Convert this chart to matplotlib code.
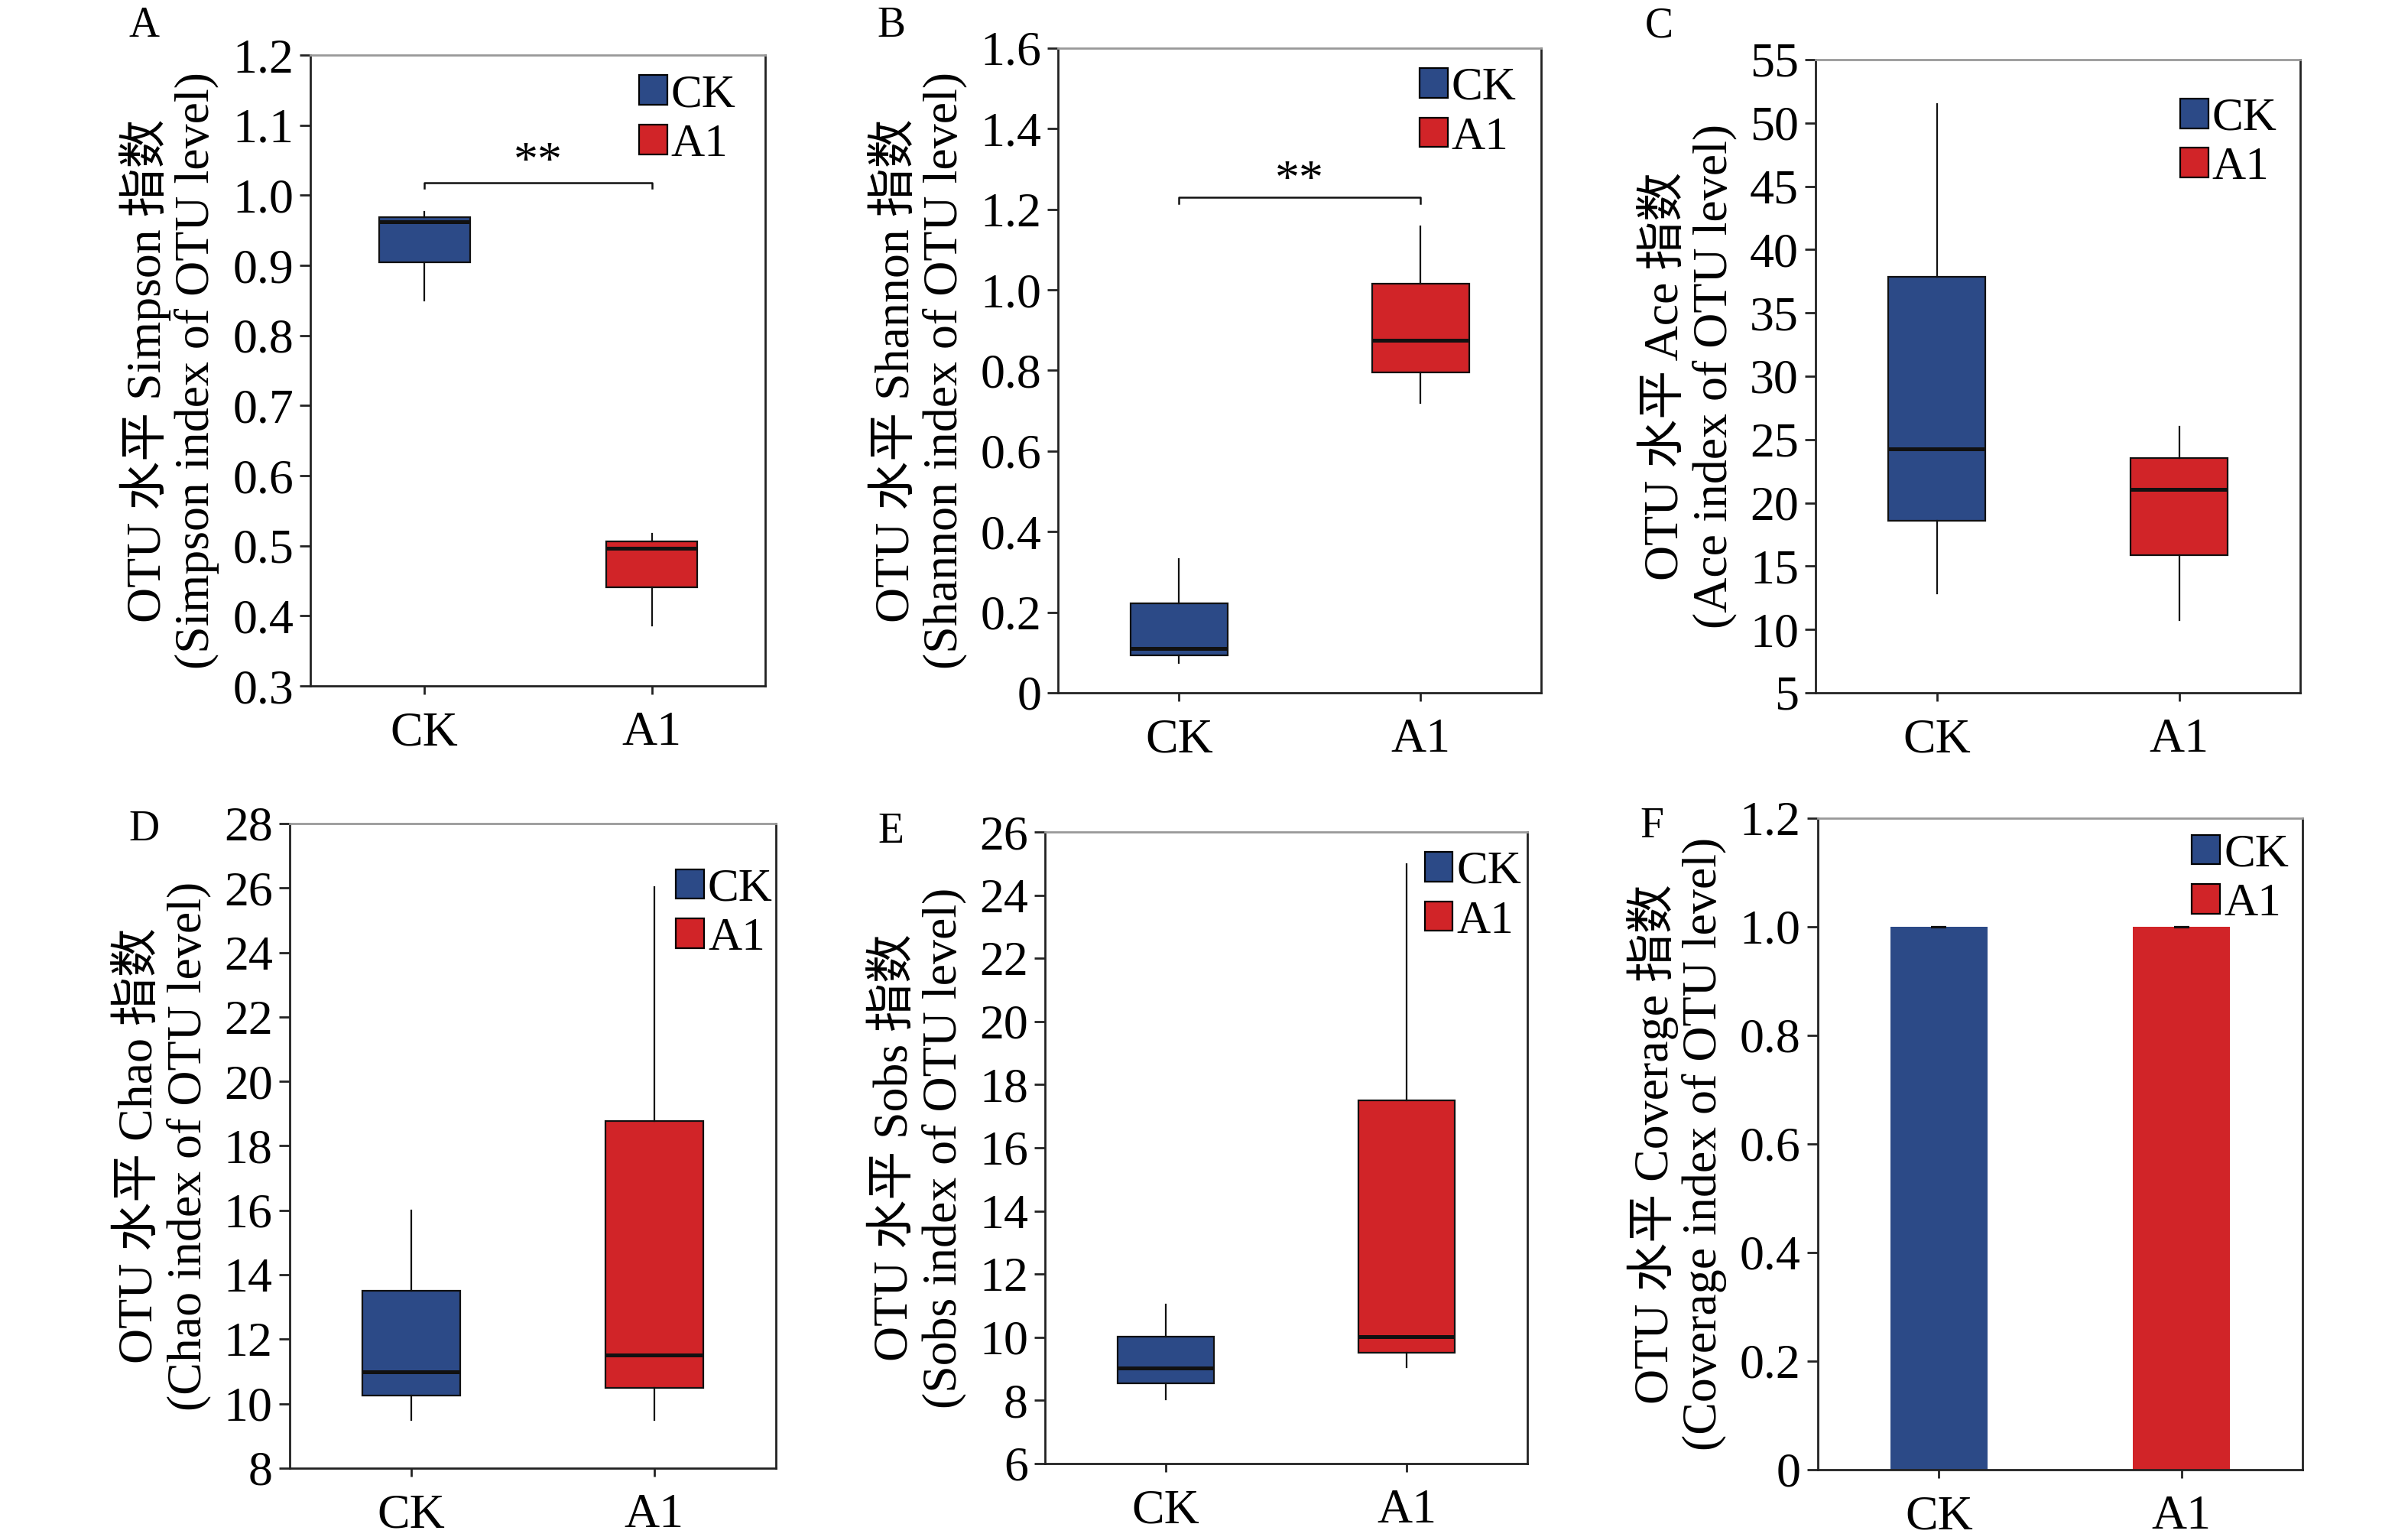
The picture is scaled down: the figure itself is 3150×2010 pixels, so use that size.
import matplotlib
matplotlib.use('Agg')
import matplotlib.pyplot as plt
from matplotlib.patches import Patch

plt.rcParams['font.family'] = ['Liberation Serif', 'Noto Sans CJK SC']
plt.rcParams['axes.unicode_minus'] = False

groups = ['CK', 'A1']
blue = '#2c4a87'
red = '#d12428'

# box stats per group: [whislo, q1, med, q3, whishi]
simpson = {'CK': [0.850, 0.904, 0.962, 0.969, 0.976], 'A1': [0.386, 0.441, 0.496, 0.506, 0.517]}
shannon = {'CK': [0.074, 0.092, 0.109, 0.221, 0.332], 'A1': [0.719, 0.796, 0.875, 1.016, 1.157]}
ace = {'CK': [12.86, 18.56, 24.25, 37.84, 51.5], 'A1': [10.73, 15.88, 21.07, 23.51, 26.03]}
chao = {'CK': [9.5, 10.26, 11.0, 13.5, 16.0], 'A1': [9.5, 10.5, 11.5, 18.76, 26.03]}
sobs = {'CK': [8.04, 8.54, 9.02, 10.01, 11.04], 'A1': [9.04, 9.52, 10.03, 17.51, 24.98]}
coverage = [0.9995, 0.9995]
coverage_err = [0.0004, 0.0004]

# significance bracket heights (bracket y, ends y, star y)
simpson_sig = [1.018, 1.010, 1.045]
shannon_sig = [1.230, 1.215, 1.268]

fig = plt.figure(figsize=(15.75, 10.05), dpi=200)

positions = {
    'A': [0.1290, 0.5537, 0.1889, 0.4104],
    'B': [0.4395, 0.5493, 0.2006, 0.4194],
    'C': [0.7540, 0.5493, 0.2013, 0.4119],
    'D': [0.1203, 0.0448, 0.2019, 0.4194],
    'E': [0.4340, 0.0478, 0.2003, 0.4109],
    'F': [0.7549, 0.0438, 0.2013, 0.4239],
}
legend_anchor = {'A': (0.976, 1.0), 'B': (0.987, 1.0), 'C': (0.99, 0.97),
                 'D': (1.032, 0.96), 'E': (1.026, 1.0), 'F': (1.01, 1.005)}
letter_pos = {'A': (0.0597, 0.983), 'B': (0.370, 0.983), 'C': (0.689, 0.983),
              'D': (0.0597, 0.460), 'E': (0.370, 0.4585), 'F': (0.686, 0.462)}

TICK = 23
LAB = 23
LEG = 22


def style_axes(ax, key, ylim, yticks, yticklabels=None):
    ax.set_xlim(0.5, 2.5)
    ax.set_ylim(*ylim)
    ax.set_yticks(yticks)
    if yticklabels is not None:
        ax.set_yticklabels(yticklabels)
    ax.set_xticks([1, 2])
    ax.set_xticklabels(groups)
    ax.tick_params(axis='both', direction='out', labelsize=TICK, width=1.0, color='#222222')
    ax.tick_params(axis='y', length=5, pad=3)
    ax.tick_params(axis='x', length=4, pad=8)
    for s in ax.spines.values():
        s.set_linewidth(1.0)
        s.set_color('#222222')
    ax.spines['top'].set_color('#999999')
    handles = [Patch(facecolor=blue, edgecolor='black', linewidth=0.8, label='CK'),
               Patch(facecolor=red, edgecolor='black', linewidth=0.8, label='A1')]
    ax.legend(handles=handles, loc='upper right', frameon=False, fontsize=LEG,
              handlelength=0.6, handleheight=0.6, handletextpad=0.08,
              labelspacing=0.15, borderaxespad=0.0, bbox_to_anchor=legend_anchor[key])


def draw_box(ax, data):
    stats = []
    for g in groups:
        lo, q1, med, q3, hi = data[g]
        stats.append({'whislo': lo, 'q1': q1, 'med': med, 'q3': q3, 'whishi': hi, 'fliers': []})
    bp = ax.bxp(stats, positions=[1, 2], widths=0.4, patch_artist=True, showcaps=False,
                boxprops=dict(linewidth=0.8, edgecolor='#111111'),
                whiskerprops=dict(linewidth=0.8, color='#111111'),
                medianprops=dict(linewidth=1.8, color='#111111'))
    for patch, c in zip(bp['boxes'], [blue, red]):
        patch.set_facecolor(c)


def draw_sig(ax, sig):
    top, end, star = sig
    ax.plot([1, 1, 2, 2], [end, top, top, end], color='#111111', linewidth=0.9)
    ax.text(1.5, star, '**', ha='center', va='center', fontsize=TICK)


def ylabel(ax, name, pad):
    ax.set_ylabel('OTU 水平 %s 指数\n(%s index of OTU level)' % (name, name),
                  fontsize=LAB, labelpad=pad, linespacing=1.1)


axA = fig.add_axes(positions['A'])
draw_box(axA, simpson)
draw_sig(axA, simpson_sig)
style_axes(axA, 'A', (0.3, 1.2), [0.3, 0.4, 0.5, 0.6, 0.7, 0.8, 0.9, 1.0, 1.1, 1.2],
           ['0.3', '0.4', '0.5', '0.6', '0.7', '0.8', '0.9', '1.0', '1.1', '1.2'])
ylabel(axA, 'Simpson', 6)

axB = fig.add_axes(positions['B'])
draw_box(axB, shannon)
draw_sig(axB, shannon_sig)
style_axes(axB, 'B', (0, 1.6), [0, 0.2, 0.4, 0.6, 0.8, 1.0, 1.2, 1.4, 1.6],
           ['0', '0.2', '0.4', '0.6', '0.8', '1.0', '1.2', '1.4', '1.6'])
ylabel(axB, 'Shannon', 6)

axC = fig.add_axes(positions['C'])
draw_box(axC, ace)
style_axes(axC, 'C', (5, 55), list(range(5, 56, 5)))
ylabel(axC, 'Ace', 6)

axD = fig.add_axes(positions['D'])
draw_box(axD, chao)
style_axes(axD, 'D', (8, 28), list(range(8, 29, 2)))
ylabel(axD, 'Chao', 6)

axE = fig.add_axes(positions['E'])
draw_box(axE, sobs)
style_axes(axE, 'E', (6, 26), list(range(6, 27, 2)))
ylabel(axE, 'Sobs', 6)

axF = fig.add_axes(positions['F'])
axF.bar([1, 2], coverage, width=0.4, color=[blue, red], yerr=coverage_err,
        error_kw=dict(ecolor='#111111', elinewidth=0.8, capsize=3.5, capthick=0.8))
style_axes(axF, 'F', (0, 1.2), [0, 0.2, 0.4, 0.6, 0.8, 1.0, 1.2],
           ['0', '0.2', '0.4', '0.6', '0.8', '1.0', '1.2'])
ylabel(axF, 'Coverage', 6)

for k, (x, y) in letter_pos.items():
    fig.text(x, y, k, fontsize=20, ha='center', va='center')

fig.savefig('out.png', dpi=200)
